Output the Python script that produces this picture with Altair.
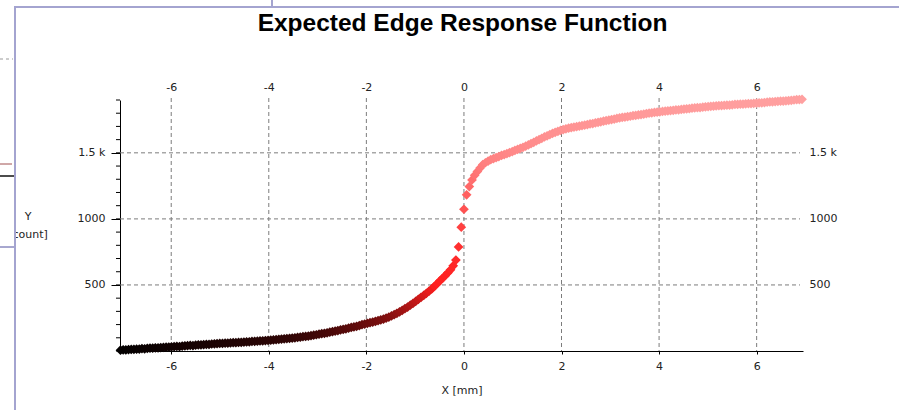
import altair as alt
import pandas as pd

TITLE = "Expected Edge Response Function"
X_TITLE = "X [mm]"
Y_TITLE = ["Y", "[count]"]

# Sample positions across the edge (mm)
X_MM = [
    -7.04, -6.985, -6.93, -6.875, -6.82, -6.765, -6.71, -6.655, -6.6, -6.545,
    -6.49, -6.435, -6.38, -6.325, -6.27, -6.215, -6.16, -6.105, -6.05, -5.995,
    -5.94, -5.885, -5.83, -5.775, -5.72, -5.665, -5.61, -5.555, -5.5, -5.445,
    -5.39, -5.335, -5.28, -5.225, -5.17, -5.115, -5.06, -5.005, -4.95, -4.895,
    -4.84, -4.785, -4.73, -4.675, -4.62, -4.565, -4.51, -4.455, -4.4, -4.345,
    -4.29, -4.235, -4.18, -4.125, -4.07, -4.015, -3.96, -3.905, -3.85, -3.795,
    -3.74, -3.685, -3.63, -3.575, -3.52, -3.465, -3.41, -3.355, -3.3, -3.245,
    -3.19, -3.135, -3.08, -3.025, -2.97, -2.915, -2.86, -2.805, -2.75, -2.695,
    -2.64, -2.585, -2.53, -2.475, -2.42, -2.365, -2.31, -2.255, -2.2, -2.145,
    -2.09, -2.035, -1.98, -1.925, -1.87, -1.815, -1.76, -1.705, -1.65, -1.595,
    -1.54, -1.485, -1.43, -1.375, -1.32, -1.265, -1.21, -1.155, -1.1, -1.045,
    -0.99, -0.935, -0.88, -0.825, -0.77, -0.715, -0.66, -0.605, -0.55, -0.495,
    -0.44, -0.385, -0.33, -0.275, -0.22, -0.165, -0.11, -0.055, 0.0, 0.055,
    0.11, 0.165, 0.22, 0.275, 0.33, 0.385, 0.44, 0.495, 0.55, 0.605,
    0.66, 0.715, 0.77, 0.825, 0.88, 0.935, 0.99, 1.045, 1.1, 1.155,
    1.21, 1.265, 1.32, 1.375, 1.43, 1.485, 1.54, 1.595, 1.65, 1.705,
    1.76, 1.815, 1.87, 1.925, 1.98, 2.035, 2.09, 2.145, 2.2, 2.255,
    2.31, 2.365, 2.42, 2.475, 2.53, 2.585, 2.64, 2.695, 2.75, 2.805,
    2.86, 2.915, 2.97, 3.025, 3.08, 3.135, 3.19, 3.245, 3.3, 3.355,
    3.41, 3.465, 3.52, 3.575, 3.63, 3.685, 3.74, 3.795, 3.85, 3.905,
    3.96, 4.015, 4.07, 4.125, 4.18, 4.235, 4.29, 4.345, 4.4, 4.455,
    4.51, 4.565, 4.62, 4.675, 4.73, 4.785, 4.84, 4.895, 4.95, 5.005,
    5.06, 5.115, 5.17, 5.225, 5.28, 5.335, 5.39, 5.445, 5.5, 5.555,
    5.61, 5.665, 5.72, 5.775, 5.83, 5.885, 5.94, 5.995, 6.05, 6.105,
    6.16, 6.215, 6.27, 6.325, 6.38, 6.435, 6.49, 6.545, 6.6, 6.655,
    6.71, 6.765, 6.82, 6.875, 6.93,
]

# Edge response (counts)
Y_COUNT = [
    6, 9, 8, 11, 12, 13, 14, 15, 18, 17,
    20, 21, 22, 24, 23, 26, 27, 29, 30, 32,
    33, 35, 34, 37, 39, 40, 42, 41, 44, 46,
    47, 48, 50, 50, 53, 54, 55, 57, 57, 59,
    60, 61, 63, 63, 65, 66, 68, 69, 70, 72,
    73, 74, 76, 77, 79, 81, 82, 84, 86, 88,
    90, 92, 94, 96, 98, 100, 103, 105, 108, 110,
    113, 116, 120, 123, 127, 131, 134, 138, 142, 146,
    151, 155, 160, 164, 168, 173, 178, 182, 187, 193,
    199, 204, 210, 214, 219, 224, 230, 236, 242, 249,
    256, 265, 275, 285, 296, 308, 320, 333, 347, 360,
    375, 391, 406, 421, 437, 453, 470, 490, 510, 530,
    550, 570, 592, 615, 645, 688, 788, 937, 1073, 1182,
    1245, 1295, 1330, 1358, 1385, 1410, 1425, 1437, 1448, 1457,
    1464, 1472, 1480, 1487, 1494, 1502, 1509, 1518, 1526, 1534,
    1542, 1550, 1560, 1570, 1580, 1590, 1600, 1610, 1620, 1629,
    1638, 1647, 1655, 1662, 1670, 1676, 1682, 1687, 1691, 1695,
    1698, 1702, 1706, 1710, 1714, 1719, 1722, 1727, 1731, 1735,
    1740, 1744, 1748, 1752, 1756, 1760, 1764, 1768, 1771, 1774,
    1777, 1781, 1783, 1787, 1790, 1793, 1797, 1800, 1803, 1806,
    1808, 1811, 1813, 1815, 1818, 1820, 1822, 1825, 1826, 1829,
    1831, 1833, 1835, 1838, 1840, 1842, 1843, 1846, 1848, 1850,
    1852, 1853, 1855, 1857, 1858, 1860, 1861, 1862, 1864, 1866,
    1867, 1868, 1869, 1871, 1872, 1873, 1875, 1876, 1878, 1879,
    1881, 1883, 1885, 1886, 1888, 1890, 1891, 1892, 1894, 1896,
    1898, 1900, 1902, 1903, 1905,
]

X_TICKS = [-6, -4, -2, 0, 2, 4, 6]
Y_TICKS = [500, 1000, 1500]
Y_MINOR = [0, 100, 200, 300, 400, 500, 600, 700, 800, 900, 1000,
           1100, 1200, 1300, 1400, 1500, 1600, 1700, 1800, 1900]

W, H = 683, 251
LABEL_FONT = "DejaVu Sans"
LABEL_COLOR = "#222222"
FRAME = "#a4a4d0"

x_scale = alt.Scale(domain=[-7.05, 6.95], nice=False, zero=False)
y_scale = alt.Scale(domain=[0, 1900], nice=False, zero=False)
y_label = "datum.value == 1500 ? '1.5 k' : '' + datum.value"
x_label = "'' + datum.value"

erf = pd.DataFrame({"x": X_MM, "y": Y_COUNT})
one = pd.DataFrame({"k": [0]})

grid = dict(color="#7c7c7c", strokeDash=[4, 3], strokeWidth=1)

# Vertical grid lines, also carrying the top axis labels
vgrid = alt.Chart(pd.DataFrame({"x": X_TICKS})).mark_rule(**grid).encode(
    x=alt.X("x:Q", scale=x_scale,
            axis=alt.Axis(orient="top", values=X_TICKS, labelExpr=x_label,
                          domain=False, ticks=False, tickSize=0, grid=False,
                          labelPadding=8, title=None)),
    y=alt.value(-2), y2=alt.value(H),
)

# Horizontal grid lines, also carrying the right axis labels
hgrid = alt.Chart(pd.DataFrame({"y": Y_TICKS})).mark_rule(**grid).encode(
    y=alt.Y("y:Q", scale=y_scale,
            axis=alt.Axis(orient="right", values=Y_TICKS, labelExpr=y_label,
                          domain=False, ticks=False, tickSize=0, grid=False,
                          labelPadding=6, title=None)),
    x=alt.value(0), x2=alt.value(W - 3),
)

points = alt.Chart(erf).mark_point(
    shape="diamond", filled=True, size=95, opacity=1, strokeWidth=0
).encode(
    x=alt.X("x:Q", scale=x_scale,
            axis=alt.Axis(orient="bottom", values=X_TICKS, labelExpr=x_label,
                          grid=False, domainColor="black", tickColor="black",
                          tickSize=3, labelPadding=6, title=X_TITLE,
                          titlePadding=13, titleFont=LABEL_FONT, titleFontSize=11,
                          titleFontWeight="normal", titleColor=LABEL_COLOR)),
    y=alt.Y("y:Q", scale=y_scale,
            axis=alt.Axis(orient="left", values=Y_TICKS, labelExpr=y_label,
                          grid=False, domainColor="black", tickColor="black",
                          tickSize=9, labelPadding=6, title=None)),
    color=alt.Color("y:Q", legend=None,
                    scale=alt.Scale(domain=[0, 500, 800, 1500, 1900],
                                    range=["#000000", "#ff1f1f", "#ff3030",
                                           "#ff8888", "#ffa0a0"],
                                    interpolate="rgb")),
)

# Minor ticks on the left axis
minor = alt.Chart(pd.DataFrame({"y": Y_MINOR})).mark_rule(color="black").encode(
    y=alt.Y("y:Q", scale=y_scale, axis=None),
    x=alt.value(-4), x2=alt.value(0),
)

title = alt.Chart(pd.DataFrame({"t": [TITLE]})).mark_text(
    font="Liberation Sans", fontSize=24.5, fontWeight="bold", color="black",
    align="center", baseline="alphabetic",
).encode(text="t:N", x=alt.value(W / 2 + 1), y=alt.value(-69))

ytitle_a = alt.Chart(pd.DataFrame({"t": [Y_TITLE[0]]})).mark_text(
    font=LABEL_FONT, fontSize=11, color=LABEL_COLOR, align="center", baseline="middle"
).encode(text="t:N", x=alt.value(-92), y=alt.value(117))

ytitle_b = alt.Chart(pd.DataFrame({"t": [Y_TITLE[1]]})).mark_text(
    font=LABEL_FONT, fontSize=11, color=LABEL_COLOR, align="center", baseline="middle"
).encode(text="t:N", x=alt.value(-92), y=alt.value(135))

# Neighbouring window strip on the far left, and the panel frame
cover = alt.Chart(one).mark_rect(color="white").encode(
    x=alt.value(-125), x2=alt.value(-105), y=alt.value(-100), y2=alt.value(320))

frame_left = alt.Chart(one).mark_rule(color=FRAME, strokeWidth=2).encode(
    x=alt.value(-105), y=alt.value(-93), y2=alt.value(315))
frame_top = alt.Chart(one).mark_rule(color=FRAME, strokeWidth=2).encode(
    y=alt.value(-93), x=alt.value(-106), x2=alt.value(785))
frame_notch = alt.Chart(one).mark_rule(color=FRAME, strokeWidth=2).encode(
    x=alt.value(152), y=alt.value(-100), y2=alt.value(-93))

strip_black = alt.Chart(one).mark_rule(color="#111111", strokeWidth=1.5).encode(
    y=alt.value(76), x=alt.value(-125), x2=alt.value(-106))
strip_brown = alt.Chart(one).mark_rule(color="#a05050", strokeWidth=1).encode(
    y=alt.value(64), x=alt.value(-125), x2=alt.value(-108))
strip_blue = alt.Chart(one).mark_rule(color="#5050a0", strokeWidth=1).encode(
    y=alt.value(147), x=alt.value(-125), x2=alt.value(-106))
strip_dash = alt.Chart(one).mark_rule(color="#999999", strokeDash=[3, 3]).encode(
    y=alt.value(-41), x=alt.value(-120), x2=alt.value(-107))

chart = alt.layer(
    vgrid, hgrid, points, minor, title, ytitle_a, ytitle_b,
    cover, frame_left, frame_top, frame_notch,
    strip_black, strip_brown, strip_blue, strip_dash,
).resolve_axis(
    x="independent", y="independent"
).properties(
    width=W, height=H,
    autosize=alt.AutoSizeParams(type="none"),
    padding={"left": 120, "top": 100, "right": 96, "bottom": 59},
    background="white",
).configure_view(
    stroke=None
).configure_axis(
    labelFont=LABEL_FONT, labelFontSize=11, labelColor=LABEL_COLOR,
    domainWidth=1, tickWidth=1,
)

chart.save("out.html", embed_options={"renderer": "svg", "actions": False})
